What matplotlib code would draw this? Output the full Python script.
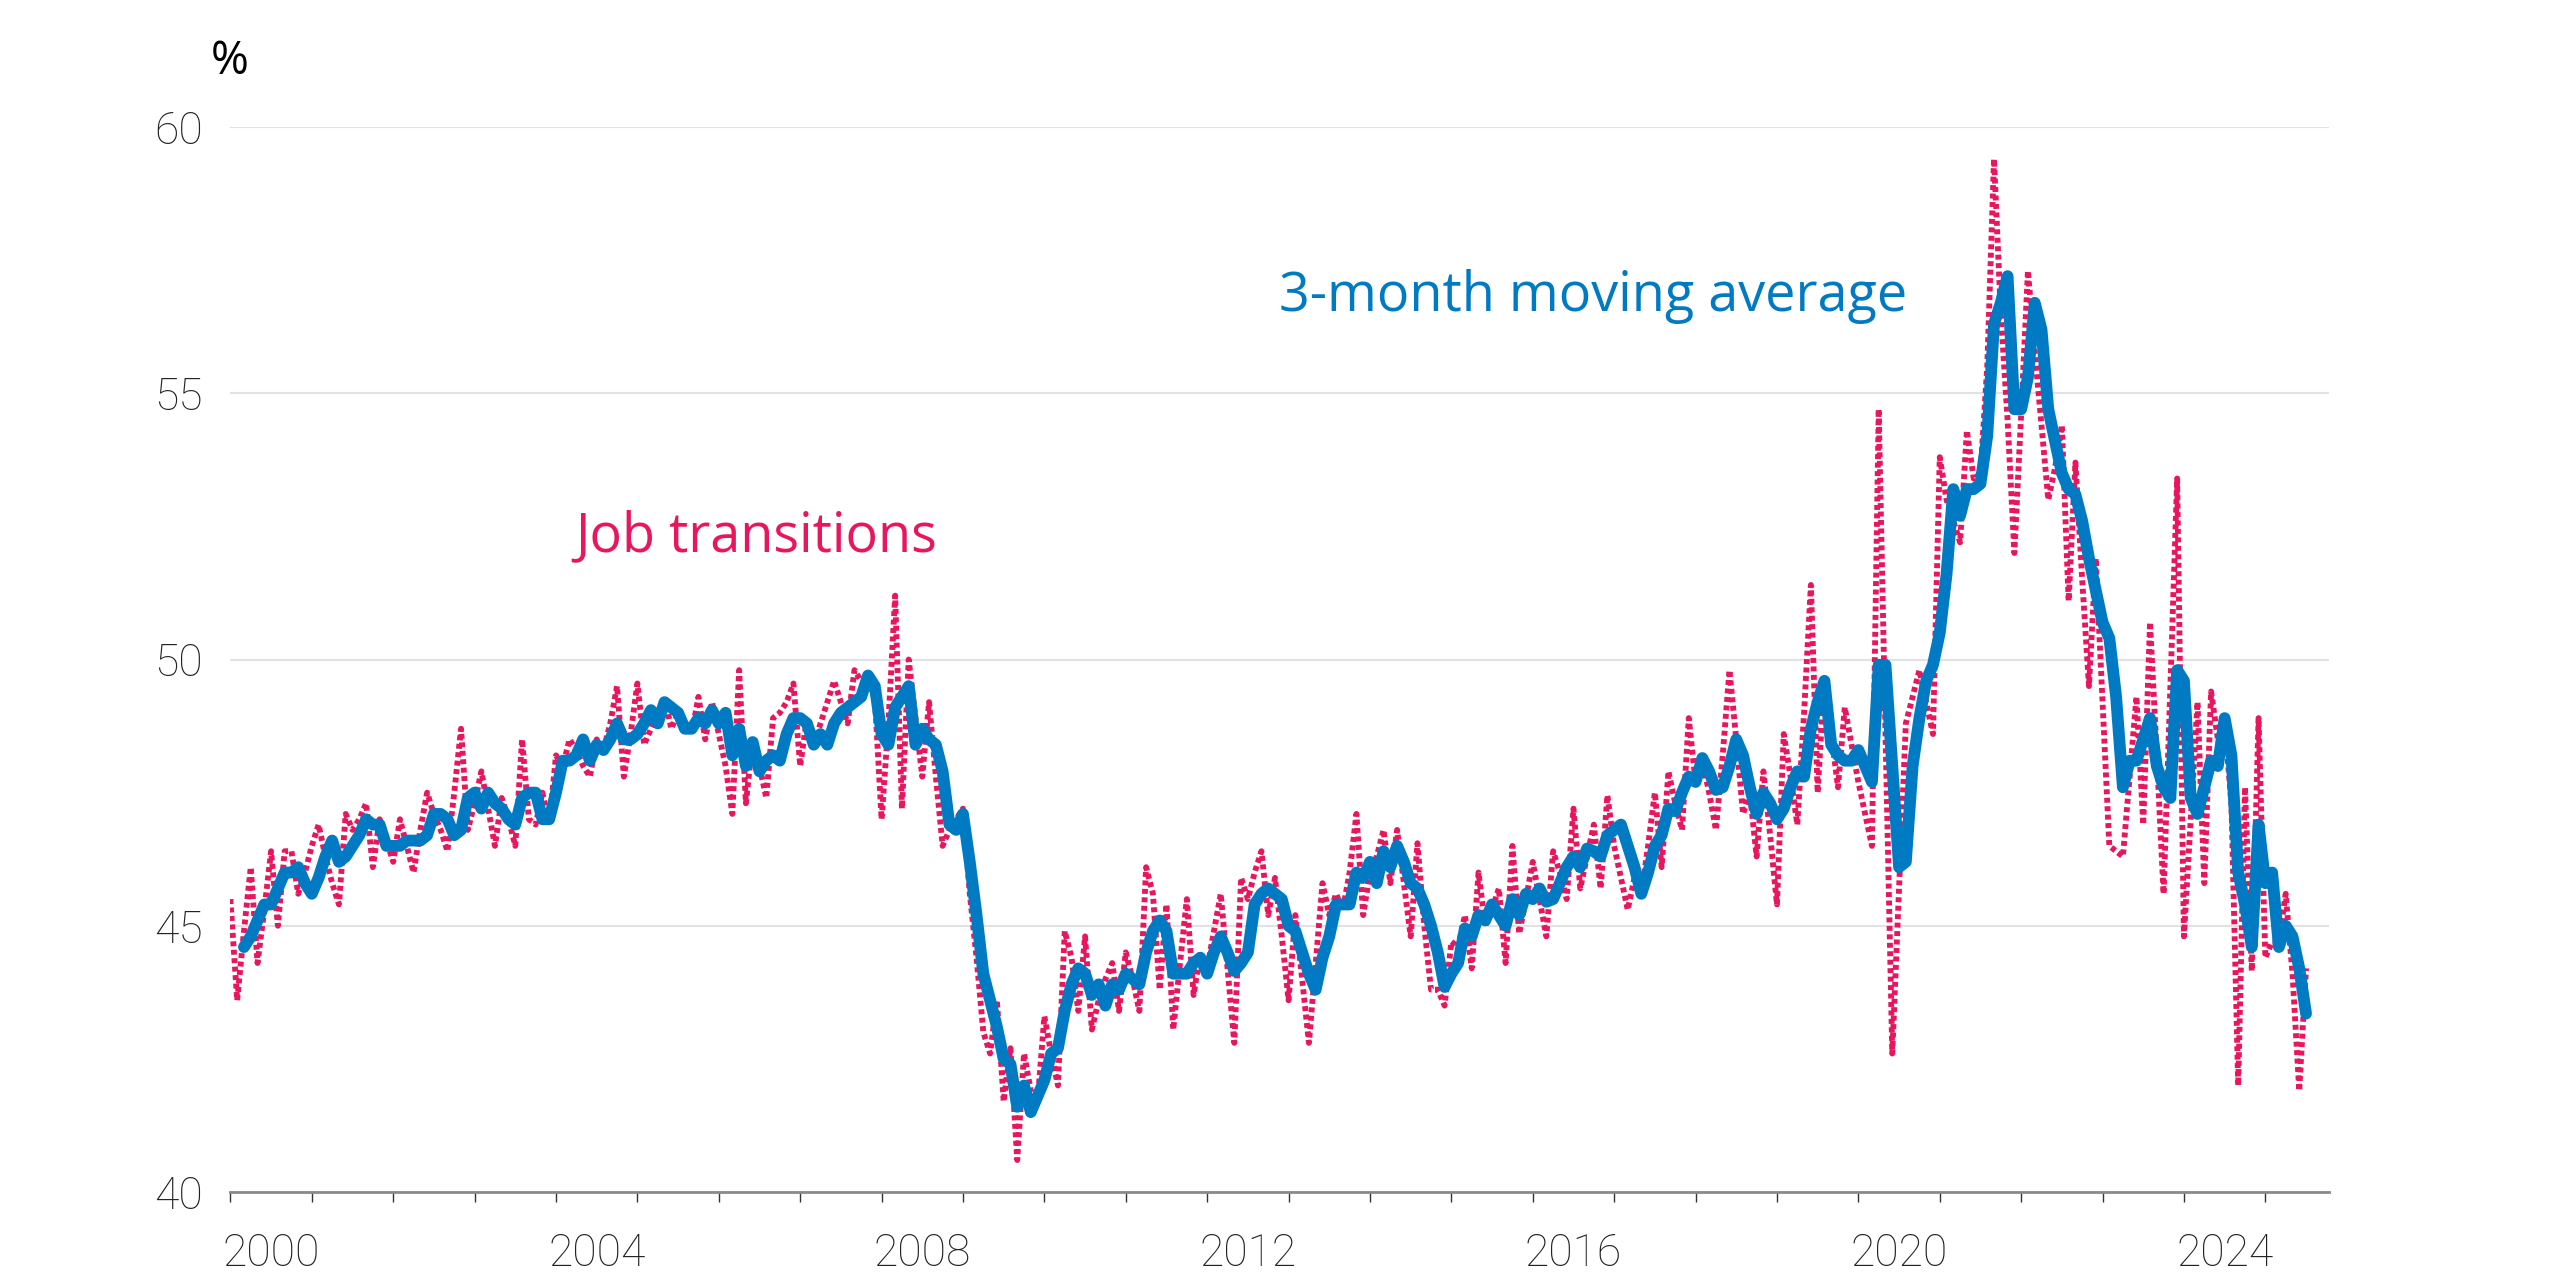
import numpy as np
import matplotlib.pyplot as plt

# Share of job transitions (%), monthly from Jan 2000
job_transitions = [
    45.5, 43.6, 44.9, 46.1, 44.3, 45.3, 46.4, 45.0, 46.4, 46.4,
    45.6, 46.0, 46.5, 46.9, 46.3, 45.8, 45.4, 47.1, 46.8, 47.0,
    47.3, 46.1, 47.0, 46.6, 46.2, 47.0, 46.5, 46.0, 46.8, 47.5,
    47.1, 46.8, 46.4, 47.5, 48.7, 46.8, 47.3, 47.9, 47.2, 46.5,
    47.4, 47.0, 46.5, 48.5, 47.0, 46.9, 47.5, 46.9, 48.2, 48.0,
    48.5, 48.3, 48.0, 47.8, 48.5, 48.3, 48.8, 49.5, 47.8, 48.6,
    49.55, 48.4, 48.7, 49.0, 49.3, 48.7, 49.0, 48.8, 48.6, 49.3,
    48.5, 49.2, 48.6, 48.0, 47.1, 49.8, 47.3, 48.5, 48.0, 47.4,
    48.9, 49.0, 49.2, 49.55, 48.0, 48.9, 48.4, 48.8, 49.2, 49.6,
    49.2, 48.8, 49.8, 49.6, 49.5, 49.3, 47.0, 48.8, 51.2, 47.2,
    50.0, 48.9, 47.8, 49.2, 47.8, 46.5, 46.8, 47.0, 47.2, 45.6,
    44.4, 43.0, 42.6, 43.6, 41.7, 42.7, 40.6, 42.6, 41.9, 41.7,
    43.3, 42.6, 42.0, 44.9, 44.4, 43.4, 44.8, 43.05, 43.6, 44.0,
    44.3, 43.4, 44.5, 44.0, 43.4, 46.1, 45.6, 43.8, 45.4, 43.05,
    44.3, 45.5, 43.7, 44.5, 44.2, 44.9, 45.6, 44.2, 42.8, 45.9,
    45.5, 46.0, 46.4, 45.2, 45.9, 44.8, 43.6, 45.2, 44.0, 42.8,
    44.3, 45.8, 45.2, 45.6, 45.3, 46.0, 47.1, 45.2, 46.0, 46.3,
    46.8, 45.8, 46.8, 45.8, 44.8, 46.55, 45.0, 43.8, 43.8, 43.5,
    44.7, 44.6, 45.2, 44.2, 46.0, 45.0, 45.3, 45.7, 44.3, 46.5,
    44.85, 45.5, 46.2, 45.5, 44.8, 46.4, 46.0, 45.5, 47.2, 45.7,
    46.3, 46.9, 45.7, 47.45, 46.5, 45.9, 45.3, 45.9, 45.6, 46.5,
    47.5, 46.1, 47.9, 47.3, 46.8, 48.9, 47.7, 48.1, 47.5, 46.8,
    48.2, 49.8, 48.5, 47.1, 47.5, 46.3, 47.9, 46.7, 45.4, 48.6,
    47.8, 46.9, 49.0, 51.4, 47.5, 49.7, 48.6, 47.6, 49.1, 48.4,
    47.7, 47.1, 46.5, 54.7, 48.6, 42.6, 45.7, 48.8, 49.3, 49.8,
    49.2, 48.6, 53.8, 53.0, 52.6, 52.2, 54.3, 53.4, 53.5, 55.5,
    59.4, 56.5, 54.5, 52.0, 54.6, 57.3, 55.8, 54.4, 53.0, 53.6,
    54.4, 51.1, 53.7, 51.5, 49.5, 51.9, 49.2, 46.5, 46.4, 46.3,
    47.8, 49.3, 46.9, 50.7, 48.2, 45.6, 49.5, 53.4, 44.8, 47.0,
    49.2, 45.8, 49.4, 48.5, 48.8, 47.3, 42.0, 47.6, 44.15, 48.9,
    44.4, 44.7, 44.7, 45.6, 44.1, 41.9, 44.2,
]

# 3-month moving average (%), same months
moving_average = [
    np.nan, np.nan, 44.6, 44.8, 45.1, 45.4, 45.4, 45.7, 46.0, 46.0,
    46.1, 45.8, 45.6, 45.9, 46.3, 46.6, 46.2, 46.3, 46.5, 46.7,
    47.0, 46.9, 46.9, 46.5, 46.5, 46.5, 46.6, 46.6, 46.6, 46.7,
    47.1, 47.1, 47.0, 46.7, 46.8, 47.4, 47.5, 47.2, 47.5, 47.3,
    47.2, 47.0, 46.9, 47.4, 47.5, 47.5, 47.0, 47.0, 47.5, 48.1,
    48.1, 48.2, 48.5, 48.1, 48.4, 48.3, 48.5, 48.8, 48.5, 48.5,
    48.6, 48.8, 49.05, 48.8, 49.2, 49.1, 49.0, 48.7, 48.7, 48.9,
    48.8, 49.05, 48.8, 49.0, 48.2, 48.7, 48.0, 48.45, 47.9, 48.1,
    48.2, 48.1, 48.6, 48.9, 48.9, 48.8, 48.4, 48.6, 48.4, 48.8,
    49.0, 49.1, 49.2, 49.3, 49.7, 49.5, 48.6, 48.4, 49.1, 49.3,
    49.5, 48.4, 48.7, 48.5, 48.4, 47.9, 46.9, 46.8, 47.1, 46.2,
    45.2, 44.1, 43.6, 43.1, 42.5, 42.4, 41.6, 42.0, 41.5, 41.8,
    42.1, 42.6, 42.7, 43.4, 43.9, 44.2, 44.1, 43.7, 43.9, 43.5,
    43.9, 43.8, 44.1, 44.0, 43.9, 44.5, 44.9, 45.1, 44.9, 44.1,
    44.1, 44.1, 44.3, 44.4, 44.1, 44.5, 44.8, 44.5, 44.15, 44.3,
    44.5, 45.4, 45.6, 45.7, 45.6, 45.5, 45.0, 44.9, 44.5, 44.1,
    43.8, 44.4, 44.8, 45.4, 45.4, 45.4, 46.0, 45.9, 46.2, 45.8,
    46.4, 46.1, 46.5, 46.2, 45.8, 45.7, 45.4, 45.0, 44.5, 43.85,
    44.1, 44.3, 44.95, 44.8, 45.2, 45.1, 45.4, 45.2, 45.0, 45.5,
    45.2, 45.6, 45.5, 45.7, 45.45, 45.5, 45.8, 46.1, 46.3, 46.1,
    46.45, 46.4, 46.3, 46.7, 46.8, 46.9, 46.5, 46.1, 45.6, 46.0,
    46.5, 46.7, 47.2, 47.15, 47.5, 47.8, 47.7, 48.15, 47.9, 47.55,
    47.6, 48.0, 48.5, 48.2, 47.6, 47.1, 47.5, 47.3, 47.0, 47.2,
    47.6, 47.9, 47.8, 48.7, 49.2, 49.6, 48.4, 48.2, 48.1, 48.1,
    48.3, 48.0, 47.7, 49.9, 49.9, 48.0, 46.1, 46.2, 48.0, 48.9,
    49.6, 49.9, 50.5, 51.6, 53.2, 52.7, 53.2, 53.2, 53.3, 54.2,
    56.3, 56.7, 57.2, 54.7, 54.7, 55.3, 56.7, 56.2, 54.7, 54.1,
    53.5, 53.2, 53.1, 52.6, 51.9, 51.3, 50.7, 50.4, 49.3, 47.6,
    48.1, 48.1, 48.5, 48.9, 48.0, 47.6, 47.4, 49.8, 49.6, 47.4,
    47.1, 47.6, 48.1, 48.0, 48.9, 48.2, 46.0, 45.4, 44.6, 46.9,
    45.8, 46.0, 44.6, 45.0, 44.8, 44.2, 43.35,
]

start_year = 2000
year_ticks = list(range(2000, 2026))
label_years = [2000, 2004, 2008, 2012, 2016, 2020, 2024]
y_ticks = [40, 45, 50, 55, 60]

red = '#e8175d'
blue = '#007bc3'
tick_font = ['Roboto', 'DejaVu Sans']
text_font = ['Open Sans', 'DejaVu Sans']

t = start_year + np.arange(len(job_transitions)) / 12

fig = plt.figure(figsize=(25.6, 12.8), dpi=100)
ax = fig.add_axes([0.0900, 0.06875, 0.8197, 0.8320])

ax.plot(t, job_transitions, color=red, lw=4.2, linestyle=(0, (0.85, 0.6)))
ax.plot(t, moving_average, color=blue, lw=8.5,
        solid_capstyle='round', solid_joinstyle='round')

ax.set_xlim(2000, 2025.78)
ax.set_ylim(40, 60)

for s in ['top', 'right', 'left']:
    ax.spines[s].set_visible(False)
ax.spines['bottom'].set_color('#8a8a8a')
ax.spines['bottom'].set_linewidth(2)

ax.set_yticks(y_ticks)
ax.yaxis.grid(True, color='#e2e2e2', lw=1.5)
ax.set_axisbelow(True)
ax.tick_params(axis='y', length=0, pad=20, labelsize=32, labelcolor='#222222')

# year boundaries as ticks, labels centred on mid-year
ax.set_xticks(year_ticks)
ax.set_xticklabels([])
ax.set_xticks([y + 0.5 for y in label_years], minor=True)
ax.set_xticklabels([str(y) for y in label_years], minor=True)
ax.tick_params(axis='x', which='major', length=7, width=1, color='#333333')
ax.tick_params(axis='x', which='minor', length=0, pad=29, labelsize=32,
               labelcolor='#222222')

for lab in ax.get_xticklabels(minor=True) + ax.get_yticklabels():
    lab.set_family(tick_font)
    lab.set_fontweight('light')

ax.text(2004.24, 52.04, 'Job transitions', color=red, fontsize=38.8,
        family=text_font, ha='left', va='baseline')
ax.text(2012.88, 56.54, '3-month moving average', color=blue, fontsize=38.8,
        family=text_font, ha='left', va='baseline')

fig.text(230 / 2560, 1 - 62 / 1280, '%', ha='center', va='center',
         fontsize=33, family=text_font, color='black')

fig.savefig('out.png', dpi=100)
